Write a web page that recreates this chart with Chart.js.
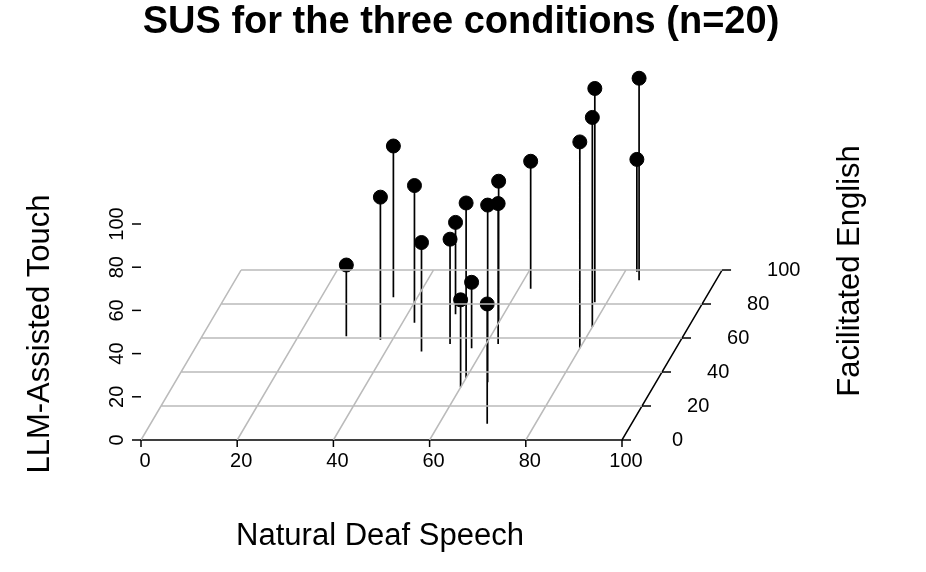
<!DOCTYPE html>
<html><head><meta charset="utf-8">
<script src="https://cdn.jsdelivr.net/npm/chart.js@4"></script>
<style>html,body{margin:0;padding:0;background:#fff}#w{width:926px;height:572px}</style>
</head><body><div id="w"><canvas id="c"></canvas></div>
<script>
// SUS scores per participant
const naturalDeafSpeech   = [30,37.5,35,42.5,47.5,52.5,50,60,60,57.5,70,65,60,62.5,62.5,80,80,77.5,82.5,84];
const facilitatedEnglish  = [61,59,84,69,52,56.5,74,36.5,31,54,9.5,34,69,56.5,89,54,66.5,81,99,94];
const llmAssistedTouch    = [33,66,70,63.5,50.5,48.5,42.5,81,40.5,30.5,55.5,82,65.5,65,59,95.5,97,99,52,93.5];
const tickValues = [0,20,40,60,80,100];

// oblique projection (scatterplot3d style)
const YX = 0.208, YZ = 0.787;
const proj = (x,y,z) => ({x: x + YX*y, y: YZ*y + z});

const pts = naturalDeafSpeech.map((x,i)=>proj(x,facilitatedEnglish[i],llmAssistedTouch[i]));
const stems = [];
naturalDeafSpeech.forEach((x,i)=>{stems.push(proj(x,facilitatedEnglish[i],llmAssistedTouch[i]),proj(x,facilitatedEnglish[i],0),{x:NaN,y:NaN});});
const grid = [];
tickValues.forEach(t=>{ if(t>0) grid.push(proj(0,t,0),proj(100,t,0),{x:NaN,y:NaN});
                        if(t<100) grid.push(proj(t,0,0),proj(t,100,0),{x:NaN,y:NaN}); });
const frame = [proj(0,0,0),proj(100,0,0),proj(100,100,0)];

const labels3d = {
  id:'labels3d',
  afterDatasetsDraw(ch){
    const c=ch.ctx, sx=ch.scales.x, sy=ch.scales.y;
    const P=(x,y,z)=>{const p=proj(x,y,z);return [sx.getPixelForValue(p.x),sy.getPixelForValue(p.y)];};
    c.save(); c.fillStyle='#000'; c.strokeStyle='#000'; c.lineWidth=1.5;
    c.font='20px "Liberation Sans", Arial'; c.textAlign='center'; c.textBaseline='middle';
    tickValues.forEach(t=>{
      let [a,b]=P(t,0,0); c.beginPath(); c.moveTo(a,b); c.lineTo(a,b+7); c.stroke();
      c.fillText(String(t),a+4,b+21);
      [a,b]=P(100,t,0); c.beginPath(); c.moveTo(a,b); c.lineTo(a+9,b); c.stroke();
      c.textAlign='left'; c.fillText(String(t),a+ (t===0?50:45),b); c.textAlign='center';
      [a,b]=P(0,0,t); c.beginPath(); c.moveTo(a,b); c.lineTo(a-9,b); c.stroke();
      c.save(); c.translate(a-24,b); c.rotate(-Math.PI/2); c.fillText(String(t),0,0); c.restore();
    });
    c.font='bold 38px "Liberation Sans", Arial'; c.fillText('SUS for the three conditions (n=20)',461,23);
    c.font='31px "Liberation Sans", Arial'; c.fillText('Natural Deaf Speech',380,536);
    c.save(); c.translate(40,334); c.rotate(-Math.PI/2); c.fillText('LLM-Assisted Touch',0,0); c.restore();
    c.save(); c.translate(850,271); c.rotate(-Math.PI/2); c.fillText('Facilitated English',0,0); c.restore();
    c.restore();
  }
};

const chart = new Chart(document.getElementById('c'),{
  type:'scatter',
  data:{datasets:[
    {data:grid,showLine:true,borderColor:'#bbbbbb',borderWidth:1.5,pointRadius:0,spanGaps:false},
    {data:frame,showLine:true,borderColor:'#000',borderWidth:1.5,pointRadius:0},
    {data:stems,showLine:true,borderColor:'#000',borderWidth:1.7,pointRadius:0,spanGaps:false},
    {data:pts,pointRadius:7,pointBackgroundColor:'#000',pointBorderColor:'#000',showLine:false}
  ]},
  options:{responsive:true,maintainAspectRatio:false,animation:false,
    layout:{padding:0},
    plugins:{legend:{display:false},tooltip:{enabled:false},title:{display:false}},
    scales:{x:{type:'linear',display:false,min:-141/4.81,max:(926-141)/4.81},
            y:{type:'linear',display:false,min:-132/2.16,max:440/2.16}}},
  plugins:[labels3d]
});
// calibrate so that u=0 -> px 141, u=100 -> px 622; v=0 -> py 440, v=100 -> py 224
const ca = chart.chartArea;
const kx = 4.81, ky = 2.16;
chart.options.scales.x.min = (ca.left-141)/kx;
chart.options.scales.x.max = (ca.right-141)/kx;
chart.options.scales.y.min = (440-ca.bottom)/ky;
chart.options.scales.y.max = (440-ca.top)/ky;
chart.update();
</script></body></html>
